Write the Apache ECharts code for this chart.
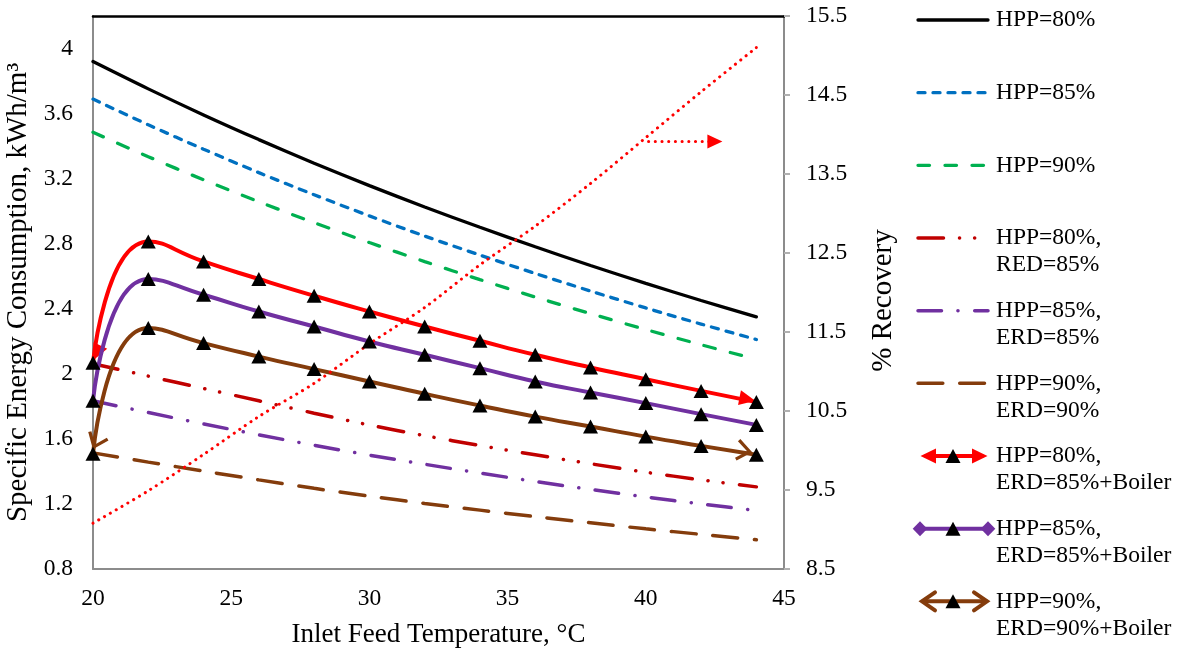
<!DOCTYPE html>
<html>
<head>
<meta charset="utf-8">
<script src="https://cdn.jsdelivr.net/npm/echarts@6/dist/echarts.min.js"></script>
<style>
html,body{margin:0;padding:0;background:#fff;}
#c{width:1184px;height:649px;}
</style>
</head>
<body>
<div id="c"></div>
<script>
// ---------------- data ----------------
const temps = [20, 22, 24, 26, 28, 30, 32, 34, 36, 38, 40, 42, 44];
const xTicks = [20, 25, 30, 35, 40, 45];

const hpp80      = [3.92, 3.752, 3.592, 3.44, 3.295, 3.157, 3.026, 2.901, 2.781, 2.666, 2.556, 2.451, 2.35];
const hpp85      = [3.689, 3.531, 3.381, 3.237, 3.101, 2.971, 2.847, 2.730, 2.617, 2.509, 2.405, 2.306, 2.211];
const hpp90      = [3.485, 3.335, 3.193, 3.058, 2.929, 2.807, 2.690, 2.579, 2.472, 2.370, 2.272, 2.179, 2.089];
const hpp80erd85 = [2.062, 1.986, 1.910, 1.834, 1.758, 1.685, 1.620, 1.559, 1.502, 1.447, 1.395, 1.348, 1.305];
const hpp85erd85 = [1.834, 1.762, 1.692, 1.625, 1.561, 1.50, 1.444, 1.39, 1.338, 1.289, 1.243, 1.20, 1.16];
const hpp90erd90 = [1.514, 1.457, 1.402, 1.348, 1.296, 1.248, 1.203, 1.162, 1.122, 1.084, 1.047, 1.013, 0.98];
const boiler80   = [2.068, 2.814, 2.691, 2.583, 2.48, 2.383, 2.291, 2.203, 2.117, 2.039, 1.967, 1.895, 1.826];
const boiler85   = [1.834, 2.583, 2.486, 2.383, 2.291, 2.199, 2.117, 2.035, 1.953, 1.885, 1.82, 1.752, 1.686];
const boiler90   = [1.508, 2.281, 2.189, 2.106, 2.029, 1.953, 1.877, 1.805, 1.737, 1.676, 1.614, 1.557, 1.502];
const recovery   = [9.08, 9.49, 9.95, 10.43, 10.85, 11.35, 11.81, 12.35, 12.84, 13.38, 13.96, 14.54, 15.10];
// annotation arrow (data space, secondary axis): points to the % Recovery axis
const recoveryArrow = [[40.1, 13.91], [42.5, 13.91]];

const leftTicks  = [0.8, 1.2, 1.6, 2, 2.4, 2.8, 3.2, 3.6, 4];
const rightTicks = [8.5, 9.5, 10.5, 11.5, 12.5, 13.5, 14.5, 15.5];

const names = [
  'HPP=80%', 'HPP=85%', 'HPP=90%',
  'HPP=80%,\nRED=85%', 'HPP=85%,\nERD=85%', 'HPP=90%,\nERD=90%',
  'HPP=80%,\nERD=85%+Boiler', 'HPP=85%,\nERD=85%+Boiler', 'HPP=90%,\nERD=90%+Boiler'
];

// ---------------- styles ----------------
const FONT = '"Liberation Serif","Times New Roman",serif';
const SERIF = 'Liberation Serif';
const C = {
  black:'#000000', blue:'#0070C0', green:'#00B050', dred:'#C00000',
  purple:'#7030A0', brown:'#843C0C', red:'#FF0000'
};
const DASH = {
  blue:[7, 8], green:[11.5, 15.5],
  dred:[25.5, 16, 0.1, 15, 0.1, 16.4],
  purple:[23.5, 16.4, 0.1, 16.7],
  brown:[24.8, 16.9],
  dot:[0.1, 6.6]
};
const CHEVRON = 'path://M10,0L20,14L17.6,16L10,5.2L2.4,16L0,14Z';

function pairs(vals){ return temps.map((t, i) => [t, vals[i]]); }

function plain(name, vals, color, width, dash){
  return {
    type:'line', name, data:pairs(vals), smooth:0.3, symbol:'none', silent:true,
    xAxisIndex:0, yAxisIndex:0,
    lineStyle:{color, width, type: dash || 'solid', cap:'round'},
    itemStyle:{color}
  };
}
function boiler(name, vals, color, marks){
  return {
    type:'line', name, data:pairs(vals), smooth:0.55, silent:true,
    xAxisIndex:0, yAxisIndex:0,
    symbol:'triangle', symbolSize:[15,14], showSymbol:true, showAllSymbol:true,
    itemStyle:{color:'#000'},
    lineStyle:{color, width:4, cap:'round'},
    markPoint: marks ? {silent:true, z:1, label:{show:false}, data:marks} : undefined
  };
}

const n = temps.length - 1;
const series = [
  plain(names[0], hpp80, C.black, 3.3, null),
  plain(names[1], hpp85, C.blue, 3.3, DASH.blue),
  plain(names[2], hpp90, C.green, 3.3, DASH.green),
  plain(names[3], hpp80erd85, C.dred, 3.5, DASH.dred),
  plain(names[4], hpp85erd85, C.purple, 3.5, DASH.purple),
  plain(names[5], hpp90erd90, C.brown, 3.5, DASH.brown),
  boiler(names[6], boiler80, C.red, [
    {coord:[temps[0], boiler80[0]], symbol:'triangle', symbolSize:[15,16], symbolRotate:155, symbolOffset:[4,-10], itemStyle:{color:C.red}},
    {coord:[temps[n], boiler80[n]], symbol:'triangle', symbolSize:[15,16], symbolRotate:-101, symbolOffset:[-9,-3], itemStyle:{color:C.red}}
  ]),
  boiler(names[7], boiler85, C.purple, null),
  boiler(names[8], boiler90, C.brown, [
    {coord:[temps[0], boiler90[0]], symbol:CHEVRON, symbolSize:[22,16], symbolRotate:157, symbolOffset:[3,-12], itemStyle:{color:C.brown}},
    {coord:[temps[n], boiler90[n]], symbol:CHEVRON, symbolSize:[22,16], symbolRotate:-100, symbolOffset:[-12,-4], itemStyle:{color:C.brown}}
  ]),
  {
    type:'line', name:'% Recovery', data:pairs(recovery), smooth:0.3, symbol:'none', silent:true,
    xAxisIndex:0, yAxisIndex:1,
    lineStyle:{color:C.red, width:3, type:DASH.dot, cap:'round'},
    itemStyle:{color:C.red},
    markLine:{
      silent:true, symbol:['none','triangle'], symbolSize:[14,15],
      label:{show:false},
      lineStyle:{color:C.red, width:3, type:DASH.dot, cap:'round'},
      data:[[{coord:recoveryArrow[0]}, {coord:recoveryArrow[1]}]]
    }
  }
];

// ---------------- legend (drawn with graphic elements) ----------------
const legendSpec = [
  {color:C.black, width:3.3, dash:null},
  {color:C.blue, width:3.3, dash:DASH.blue},
  {color:C.green, width:3.3, dash:DASH.green},
  {color:C.dred, width:3.5, dash:DASH.dred},
  {color:C.purple, width:3.5, dash:DASH.purple},
  {color:C.brown, width:3.5, dash:DASH.brown},
  {color:C.red, width:4, dash:null, ends:'arrow', tri:true},
  {color:C.purple, width:4, dash:null, ends:'diamond', tri:true},
  {color:C.brown, width:4, dash:null, ends:'chevron', tri:true}
];
const LG = {x1:918, x2:988, xt:996, y0:20, step:72.67, lh:27};
const graphics = [];
legendSpec.forEach((s, i) => {
  const y = LG.y0 + LG.step * i;
  let x1 = LG.x1, x2 = LG.x2;
  if (s.ends === 'arrow') { x1 = 926; x2 = 982; }
  if (s.ends === 'chevron') { x1 = 923; x2 = 986; }
  if (s.ends === 'diamond') { x1 = 920; x2 = 988; }
  graphics.push({type:'line', silent:true, shape:{x1, y1:y, x2, y2:y},
    style:{stroke:s.color, lineWidth:s.width, lineDash:s.dash || null, lineCap:'round'}});
  if (s.ends === 'arrow') {
    graphics.push({type:'polygon', silent:true, shape:{points:[[920.5,y],[936,y-7.5],[936,y+7.5]]}, style:{fill:s.color}});
    graphics.push({type:'polygon', silent:true, shape:{points:[[987.5,y],[972,y-7.5],[972,y+7.5]]}, style:{fill:s.color}});
  }
  if (s.ends === 'diamond') {
    [920, 988].forEach(cx => graphics.push({type:'polygon', silent:true,
      shape:{points:[[cx,y-7.5],[cx+7.3,y],[cx,y+7.5],[cx-7.3,y]]}, style:{fill:s.color}}));
  }
  if (s.ends === 'chevron') {
    graphics.push({type:'polyline', silent:true, shape:{points:[[935,y-9],[922,y],[935,y+9]]},
      style:{stroke:s.color, lineWidth:4, fill:null, lineCap:'round', lineJoin:'miter'}});
    graphics.push({type:'polyline', silent:true, shape:{points:[[974,y-9],[987,y],[974,y+9]]},
      style:{stroke:s.color, lineWidth:4, fill:null, lineCap:'round', lineJoin:'miter'}});
  }
  if (s.tri) {
    graphics.push({type:'polygon', silent:true, shape:{points:[[953,y-7],[960.5,y+7],[945.5,y+7]]}, style:{fill:'#000'}});
  }
  graphics.push({type:'text', silent:true, x:LG.xt, y:y - LG.lh/2,
    style:{text:names[i], fill:'#000', font:'23.5px ' + FONT, lineHeight:LG.lh, align:'left', verticalAlign:'top'}});
});

// ---------------- chart ----------------
const AXIS_GREY = '#8c8c8c';
const labelStyle = {fontSize:23.5, fontFamily:SERIF, color:'#000'};
const chart = echarts.init(document.getElementById('c'), null, {renderer:'canvas'});
chart.setOption({
  animation:false,
  backgroundColor:'#ffffff',
  textStyle:{fontFamily:SERIF},
  grid:{left:93, right:400, top:16, bottom:80, containLabel:false, outerBoundsMode:'none'},
  xAxis:[
    {
      type:'value', position:'bottom', min:xTicks[0], max:xTicks[xTicks.length-1], interval:5,
      name:'Inlet Feed Temperature, °C', nameLocation:'middle', nameGap:52,
      nameTextStyle:{fontSize:27, fontFamily:SERIF, color:'#000'},
      axisLine:{show:true, onZero:false, lineStyle:{color:AXIS_GREY, width:2}},
      axisTick:{show:false}, splitLine:{show:false},
      axisLabel:Object.assign({margin:18}, labelStyle)
    },
    {
      type:'value', position:'top', min:xTicks[0], max:xTicks[xTicks.length-1], interval:5,
      axisLine:{show:true, onZero:false, lineStyle:{color:'#000', width:2.5}},
      axisTick:{show:false}, axisLabel:{show:false}, splitLine:{show:false}
    }
  ],
  yAxis:[
    {
      type:'value', position:'left', min:leftTicks[0], max:4.2, interval:0.4,
      name:'Specific Energy Consumption, kWh/m³', nameLocation:'middle', nameGap:53,
      nameTextStyle:{fontSize:29, fontFamily:SERIF, color:'#000'},
      axisLine:{show:true, onZero:false, lineStyle:{color:AXIS_GREY, width:2}},
      axisTick:{show:false}, splitLine:{show:false},
      axisLabel:Object.assign({margin:20, showMaxLabel:false,
        formatter: v => (leftTicks.some(t => Math.abs(t - v) < 1e-6) ? String(+v.toFixed(1)) : '')}, labelStyle)
    },
    {
      type:'value', position:'right', min:rightTicks[0], max:rightTicks[rightTicks.length-1], interval:1,
      name:'% Recovery', nameLocation:'middle', nameGap:85,
      nameTextStyle:{fontSize:29, fontFamily:SERIF, color:'#000', padding:[0,16,0,0]},
      axisLine:{show:true, onZero:false, lineStyle:{color:AXIS_GREY, width:2}},
      axisTick:{show:true, inside:false, length:6, lineStyle:{color:'#b0b0b0', width:2}},
      splitLine:{show:false},
      axisLabel:Object.assign({margin:22, formatter: v => v.toFixed(1)}, labelStyle)
    }
  ],
  series,
  graphic:{elements:graphics}
});
</script>
</body>
</html>
